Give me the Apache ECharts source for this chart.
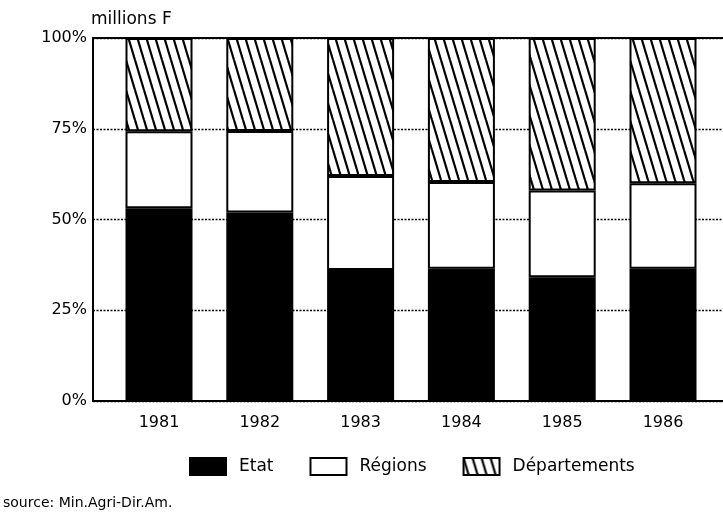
<!DOCTYPE html>
<html>
<head>
<meta charset="utf-8">
<script src="https://cdn.jsdelivr.net/npm/echarts@6/dist/echarts.min.js"></script>
<style>
  html, body { margin: 0; padding: 0; background: #fff; }
  #chart { width: 723px; height: 512px; }
</style>
</head>
<body>
<div id="chart"></div>
<script>
//--------------------- Data ---------------------------//
const years = ['1981', '1982', '1983', '1984', '1985', '1986'];
const etat = [53.1, 51.9, 36.1, 36.4, 34.1, 36.4];
const regions = [21.2, 22.5, 25.9, 23.9, 23.9, 23.6];
const departements = [25.7, 25.6, 38.0, 39.7, 42.0, 40.0];
const yTicks = [0, 25, 50, 75, 100];

const FONT = 'DejaVu Sans';

// Diagonal hatch tile for the "Départements" segments
function hatchPattern() {
  const c = document.createElement('canvas');
  c.width = 9;
  c.height = 30;
  const ctx = c.getContext('2d');
  ctx.fillStyle = '#fff';
  ctx.fillRect(0, 0, 9, 30);
  ctx.strokeStyle = '#000';
  ctx.lineWidth = 2.2;
  [-9, 0, 9].forEach((dx) => {
    ctx.beginPath();
    ctx.moveTo(dx, 0);
    ctx.lineTo(dx + 9, 30);
    ctx.stroke();
  });
  return c;
}

//--------------------- Chart ---------------------------//
const chart = echarts.init(document.getElementById('chart'), null, { renderer: 'canvas' });

const barStyle = (color) => ({
  color: color,
  borderColor: '#000',
  borderWidth: 2
});

const option = {
  backgroundColor: '#fff',
  animation: false,
  textStyle: { fontFamily: FONT, color: '#000' },
  title: {
    text: 'millions F',
    left: 91,
    top: 11,
    padding: 0,
    textStyle: { fontFamily: FONT, fontSize: 17, fontWeight: 'normal', color: '#000' }
  },
  legend: {
    left: 189,
    top: 457,
    padding: 0,
    itemWidth: 36,
    itemHeight: 17,
    itemGap: 36,
    icon: 'rect',
    textStyle: { fontFamily: FONT, fontSize: 17, color: '#000', padding: [0, 0, 0, 8] },
    data: ['Etat', 'Régions', 'Départements']
  },
  graphic: [{
    type: 'text',
    left: 3,
    top: 496,
    style: { text: 'source: Min.Agri-Dir.Am.', font: '14px "DejaVu Sans"', fill: '#000' }
  }],
  grid: [
    // frame, y axis and dotted gridlines
    { left: 93, right: 0, top: 38, bottom: 111 },
    // bars
    { left: 108.6, right: 9.6, top: 38, bottom: 111 }
  ],
  xAxis: [
    {
      gridIndex: 0, type: 'value', min: 0, max: 1, position: 'bottom',
      axisLine: { show: true, lineStyle: { color: '#000', width: 2 } },
      axisTick: { show: false }, axisLabel: { show: false }, splitLine: { show: false }
    },
    {
      gridIndex: 0, type: 'value', min: 0, max: 1, position: 'top',
      axisLine: { show: true, lineStyle: { color: '#000', width: 2 } },
      axisTick: { show: false }, axisLabel: { show: false }, splitLine: { show: false }
    },
    {
      gridIndex: 1, type: 'category', data: years,
      axisLine: { show: false }, axisTick: { show: false },
      axisLabel: { fontFamily: FONT, fontSize: 16, color: '#000', margin: 14 }
    }
  ],
  yAxis: [
    {
      gridIndex: 0, type: 'value', min: yTicks[0], max: yTicks[yTicks.length - 1], interval: 25,
      axisLine: { show: true, lineStyle: { color: '#000', width: 2 } },
      axisTick: { show: false },
      axisLabel: { fontFamily: FONT, fontSize: 16, color: '#000', margin: 6, formatter: '{value}%' },
      splitLine: { show: true, lineStyle: { color: '#000', width: 1.3, type: [2, 1.5] } }
    },
    {
      gridIndex: 1, type: 'value', min: 0, max: 100, show: false
    }
  ],
  series: [
    {
      name: 'Etat', type: 'bar', stack: 'total', xAxisIndex: 2, yAxisIndex: 1,
      barWidth: 67, data: etat, itemStyle: barStyle('#000')
    },
    {
      name: 'Régions', type: 'bar', stack: 'total', xAxisIndex: 2, yAxisIndex: 1,
      barWidth: 67, data: regions, itemStyle: barStyle('#fff')
    },
    {
      name: 'Départements', type: 'bar', stack: 'total', xAxisIndex: 2, yAxisIndex: 1,
      barWidth: 67, data: departements,
      itemStyle: barStyle({ image: hatchPattern(), repeat: 'repeat' })
    }
  ]
};

option && chart.setOption(option);
</script>
</body>
</html>
